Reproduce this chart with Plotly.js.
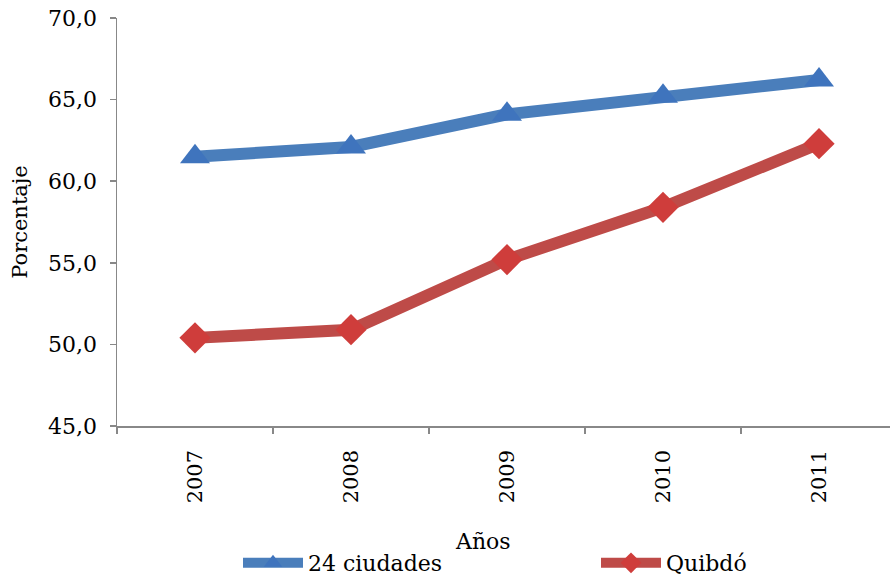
<!DOCTYPE html>
<html>
<head>
<meta charset="utf-8">
<script src="https://cdn.plot.ly/plotly-3.0.1.min.js"></script>
<style>html,body{margin:0;padding:0;background:#fff;}#chart{width:890px;height:578px;}</style>
</head>
<body>
<div id="chart"></div>
<script>
const years = ["2007", "2008", "2009", "2010", "2011"];
const ciudades24 = [61.5, 62.1, 64.1, 65.2, 66.2];
const quibdo = [50.4, 50.9, 55.2, 58.4, 62.3];
const seriesNames = ["24 ciudades", "Quibdó"];
const yTicks = [45, 50, 55, 60, 65, 70];
const xTitle = "Años";
const yTitle = "Porcentaje";

const FONT = "DejaVu Serif";

const traces = [
  {
    x: years, y: ciudades24, name: seriesNames[0], type: "scatter", mode: "lines+markers",
    line: {color: "#4a7ebb", width: 12},
    marker: {symbol: "triangle-up", size: 26, color: "#3f74bd", line: {width: 0}},
    legend: "legend"
  },
  {
    x: years, y: quibdo, name: seriesNames[1], type: "scatter", mode: "lines+markers",
    line: {color: "#be4b48", width: 12},
    marker: {symbol: "diamond", size: 24, color: "#cf3d3b", line: {width: 0}},
    legend: "legend2"
  }
];

const layout = {
  width: 890, height: 578,
  margin: {l: 117, r: 0, t: 18, b: 152},
  paper_bgcolor: "#fff", plot_bgcolor: "#fff",
  separators: ",.",
  font: {family: FONT, color: "#000", size: 18},
  showlegend: true,
  xaxis: {
    type: "category",
    range: [-0.5, 4.455],
    tickson: "boundaries",
    showline: true, linecolor: "#888", linewidth: 1.5,
    ticks: "outside", ticklen: 6, tickcolor: "#888", tickwidth: 1.5,
    showgrid: false, zeroline: false,
    tickangle: -90,
    ticklabelstandoff: 14,
    tickfont: {family: FONT, size: 21}
  },
  yaxis: {
    range: [45, 70],
    tickvals: yTicks,
    tickformat: ".1f",
    showline: true, linecolor: "#888", linewidth: 1.5,
    ticks: "outside", ticklen: 6, tickcolor: "#888", tickwidth: 1.5,
    showgrid: false, zeroline: false,
    ticklabelstandoff: 8,
    tickfont: {family: FONT, size: 22},
    title: {text: yTitle, font: {family: FONT, size: 21}, standoff: 15}
  },
  annotations: [
    {
      text: xTitle, showarrow: false,
      xref: "paper", yref: "paper",
      x: (483 - 117) / 773, y: (426 - 541) / 408,
      xanchor: "center", yanchor: "middle",
      font: {family: FONT, size: 22, color: "#000"}
    }
  ],
  legend: {
    xref: "container", yref: "container",
    x: 238/890, y: 1 - 563/578, xanchor: "left", yanchor: "middle",
    orientation: "h", bgcolor: "rgba(0,0,0,0)",
    itemwidth: 60,
    font: {family: FONT, size: 22}
  },
  legend2: {
    xref: "container", yref: "container",
    x: 596/890, y: 1 - 563/578, xanchor: "left", yanchor: "middle",
    orientation: "h", bgcolor: "rgba(0,0,0,0)",
    itemwidth: 60,
    font: {family: FONT, size: 22}
  }
};

Plotly.newPlot("chart", traces, layout, {displayModeBar: false, staticPlot: true});
</script>
</body>
</html>
